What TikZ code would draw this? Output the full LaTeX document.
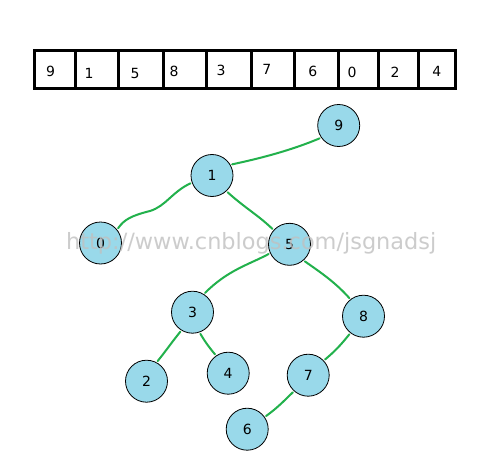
\documentclass[tikz,border=0pt]{standalone}
\usepackage{fontspec}
\setmainfont{DejaVu Sans}
\begin{document}
\begin{tikzpicture}[x=1pt,y=-1pt,
  cell/.style={line width=3pt,draw=black},
  num/.style={inner sep=0pt,font=\fontsize{14}{16}\selectfont},
  tnode/.style={circle,draw=black,line width=0.8pt,fill=nodeblue,minimum size=42pt,inner sep=0pt,outer sep=2pt,font=\fontsize{14}{16}\selectfont},
  edge/.style={draw=edgegreen,line width=2pt,line cap=round}]
\definecolor{nodeblue}{HTML}{99D9EA}
\definecolor{edgegreen}{HTML}{22B14C}
\definecolor{wmgray}{HTML}{C0C0C0}
\useasboundingbox[fill=white] (0,0) rectangle (487,476);
% array
\draw[cell] (34.2,50.8) rectangle (455,88.3);
\foreach \x in {75.5,118.2,163,206.7,251,294.8,338,378,418}
  \draw[cell] (\x,50.8) -- (\x,88.3);
\node[num] (a0) at (50.7,71.7) {9};
\node[num] (a1) at (89,73.3) {1};
\node[num] (a2) at (135,73) {5};
\node[num] (a3) at (174,71.7) {8};
\node[num] (a4) at (221,70.7) {3};
\node[num] (a5) at (266.7,69) {7};
\node[num] (a6) at (312.7,71.7) {6};
\node[num] (a7) at (352,72.7) {0};
\node[num] (a8) at (395,72.7) {2};
\node[num] (a9) at (436.7,71.7) {4};
% tree nodes
\node[tnode] (n9) at (338.7,125.5) {9};
\node[tnode] (n1) at (212,175.5) {1};
\node[tnode] (n0) at (100.5,243) {0};
\node[tnode] (n5) at (289.5,244.3) {5};
\node[tnode] (n3) at (192.5,312.2) {3};
\node[tnode] (n8) at (363.5,316.2) {8};
\node[tnode] (n2) at (146.5,381.2) {2};
\node[tnode] (n4) at (228.2,373.2) {4};
\node[tnode] (n7) at (308.2,375.2) {7};
\node[tnode] (n6) at (247.2,429.2) {6};
% edges
\draw[edge] (n9.214) .. controls (292,150) and (262,158) .. (n1.29);
\draw[edge] (n1.200) .. controls (172,192) and (166,206) .. (150,211)
            .. controls (130,216) and (124,220) .. (n0.40);
\draw[edge] (n1.-47) .. controls (245,208) and (258,215) .. (n5.138);
\draw[edge] (n5.205) .. controls (248,265) and (228,270) .. (n3.57);
\draw[edge] (n5.-48) .. controls (320,272) and (335,282) .. (n8.128);
\draw[edge] (n3.238) .. controls (172,342) and (165,352) .. (n2.61);
\draw[edge] (n3.-70) .. controls (204,340) and (208,346) .. (n4.125);
\draw[edge] (n8.232) .. controls (340,346) and (334,352) .. (n7.43);
\draw[edge] (n7.228) .. controls (284,401) and (276,409) .. (n6.35);
% watermark
\node[anchor=base west,inner sep=0pt,text=wmgray,opacity=0.8,font=\fontsize{20}{24}\selectfont] (wm) at (66,249) {\resizebox{370pt}{!}{http://www.cnblogs.com/jsgnadsj}};
\end{tikzpicture}
\end{document}
